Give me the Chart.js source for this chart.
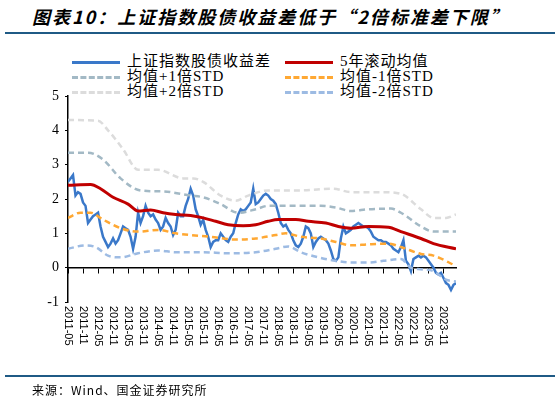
<!DOCTYPE html>
<html>
<head>
<meta charset="utf-8">
<script src="https://cdn.jsdelivr.net/npm/chart.js@4/dist/chart.umd.min.js"></script>
<style>
  body { margin: 0; background: #fff; }
  #wrap { position: relative; width: 559px; height: 403px; }
  #title { position: absolute; left: 32px; top: 3px; font: italic bold 18px "Noto Sans CJK SC"; letter-spacing: 2px; }
  .hr { position: absolute; left: 5px; width: 550px; height: 2px; background: #1f5a85; }
  #src { position: absolute; left: 32px; top: 381px; font: 12px "Noto Sans CJK SC"; letter-spacing: 1px; }
  .lg { position: absolute; font: 15px "Liberation Serif", "Noto Sans CJK SC"; line-height: 15px; letter-spacing: 1px; }
  .lg span { display: inline-block; width: 48px; height: 0; margin-right: 7px; vertical-align: middle; }
  canvas { position: absolute; left: 0; top: 0; }
</style>
</head>
<body>
<div id="wrap">
  <div id="title">图表10：上证指数股债收益差低于“2倍标准差下限”</div>
  <div class="hr" style="top:32px"></div>
  <div class="lg" style="left:72px;top:54px">
    <div><span style="border-top:3px solid #3a78c9"></span>上证指数股债收益差</div>
    <div><span style="border-top:3px dashed #a3b9c5"></span>均值+1倍STD</div>
    <div><span style="border-top:3px dashed #dcdcdc"></span>均值+2倍STD</div>
  </div>
  <div class="lg" style="left:285px;top:54px">
    <div><span style="border-top:3px solid #c00000"></span>5年滚动均值</div>
    <div><span style="border-top:3px dashed #ffa833"></span>均值-1倍STD</div>
    <div><span style="border-top:3px dashed #9dbbe3"></span>均值-2倍STD</div>
  </div>
  <canvas id="c" width="559" height="403"></canvas>
  <div class="hr" style="top:375px"></div>
  <div id="src">来源：Wind、国金证券研究所</div>
</div>
<script>
// 月度序列，2011-05 起（索引 0）
const spread = [2.5,2.6,2.7,2.1,2.2,2.15,1.9,1.8,1.3,1.4,1.5,1.55,1.6,1.2,0.9,0.75,0.6,0.7,0.85,0.7,
  0.8,1.0,1.2,1.15,1.1,0.9,0.55,0.9,1.6,1.3,1.5,1.8,1.6,1.5,1.55,1.4,1.3,1.1,1.2,1.45,
  1.3,1.2,0.95,1.1,1.6,1.5,1.5,1.8,2.0,2.3,2.1,1.7,1.5,1.25,1.4,1.1,0.9,0.6,0.75,0.8,
  0.8,1.0,0.9,0.8,0.75,0.9,1.0,1.3,1.55,1.7,1.65,1.7,1.8,1.9,2.3,1.85,1.9,2.0,2.1,2.15,
  2.1,2.0,1.95,1.85,1.6,1.3,1.2,1.25,1.1,1.0,0.8,0.65,0.6,0.7,0.9,1.2,1.15,1.0,0.6,0.75,
  0.85,0.9,0.85,0.8,0.7,0.5,0.25,0.2,0.3,0.85,1.2,1.0,1.05,1.1,1.2,1.25,1.3,1.25,1.2,1.2,
  1.15,1.05,0.9,0.85,0.8,0.8,0.75,0.75,0.7,0.65,0.55,0.5,0.45,0.6,0.8,0.2,0.1,-0.1,0.25,0.3,
  0.35,0.3,0.35,0.3,0.2,0.1,0.0,-0.15,-0.2,-0.15,-0.3,-0.45,-0.5,-0.65,-0.5,-0.45];

const meanM = [0,9,13,18,24,28,33,38,43,49,54,59,64,70,75,80,84,91,96,103,108,113,120,128,133,141,146,155];
const meanV = [2.4,2.42,2.3,2.05,1.85,1.65,1.68,1.6,1.55,1.52,1.45,1.35,1.25,1.22,1.25,1.35,1.4,1.4,1.35,1.3,1.2,1.15,1.2,1.18,1.05,0.85,0.7,0.55];

const p1M = [0,8,14,21,29,38,49,54,61,68,75,80,88,101,107,113,120,129,133,141,146,155];
const p1V = [3.35,3.35,3.15,2.6,2.25,2.22,2.1,2.05,1.85,1.6,1.7,1.8,1.8,1.8,1.75,1.65,1.7,1.72,1.6,1.2,1.05,1.05];

const p2M = [0,12,16,22,28,36,46,50,54,61,67,72,80,93,106,113,126,133,141,146,151,155];
const p2V = [4.3,4.28,4.0,3.45,2.85,2.85,2.6,2.6,2.5,2.1,1.95,2.1,2.25,2.25,2.3,2.2,2.2,2.15,1.7,1.45,1.45,1.55];

const m1M = [0,5,9,14,21,28,36,43,49,57,67,75,83,87,93,101,107,113,120,128,133,141,146,155];
const m1V = [1.45,1.6,1.6,1.4,1.15,1.05,1.1,1.0,0.95,0.9,0.82,0.85,0.95,1.0,0.9,0.85,0.75,0.65,0.68,0.7,0.6,0.4,0.35,0.05];

const m2M = [0,7,11,16,21,28,36,43,54,64,75,83,88,93,100,107,113,120,126,133,137,141,146,151,155];
const m2V = [0.55,0.65,0.6,0.35,0.3,0.42,0.5,0.45,0.45,0.42,0.45,0.55,0.62,0.45,0.3,0.2,0.15,0.15,0.2,0.25,0.0,-0.05,-0.1,-0.35,-0.4];

const tickLabels = [];
for (let y = 2011; y <= 2023; y++) { tickLabels.push(y + '-05', y + '-11'); }

const pts = (m, v) => m.map((x, i) => ({ x: x, y: v[i] }));
const band = (label, data, color, w) => ({
    label, data, borderColor: color, borderWidth: w, borderDash: [6, 4],
    pointRadius: 0, tension: 0.4, cubicInterpolationMode: 'monotone', fill: false
});

// 竖排日期标签（顺时针旋转）
const dateLabels = {
    id: 'dateLabels',
    afterDraw(chart) {
        const ctx = chart.ctx, sx = chart.scales.x;
        ctx.save();
        ctx.font = '11px "Liberation Sans"';
        ctx.fillStyle = '#000';
        ctx.textBaseline = 'middle';
        tickLabels.forEach((t, i) => {
            ctx.save();
            ctx.translate(sx.getPixelForValue(i * 6), 306);
            ctx.rotate(Math.PI / 2);
            ctx.fillText(t, 0, 0);
            ctx.restore();
        });
        ctx.restore();
    }
};

new Chart(document.getElementById('c'), {
    type: 'line',
    data: {
        datasets: [
            band('均值+2倍STD', pts(p2M, p2V), '#dcdcdc', 2.5),
            band('均值+1倍STD', pts(p1M, p1V), '#a3b9c5', 2.5),
            band('均值-2倍STD', pts(m2M, m2V), '#9dbbe3', 2.5),
            band('均值-1倍STD', pts(m1M, m1V), '#ffa833', 2.5),
            { label: '5年滚动均值', data: pts(meanM, meanV), borderColor: '#c00000', borderWidth: 3,
              pointRadius: 0, tension: 0.4, cubicInterpolationMode: 'monotone' },
            { label: '上证指数股债收益差', data: spread.map((v, i) => ({ x: i, y: v })),
              borderColor: '#3a78c9', borderWidth: 2.5, pointRadius: 0, tension: 0 }
        ]
    },
    options: {
        responsive: false,
        animation: false,
        layout: { padding: { top: 96, right: 103, bottom: 101, left: 0 } },
        plugins: { legend: { display: false }, tooltip: { enabled: false } },
        scales: {
            x: {
                type: 'linear', min: 0, max: 155,
                position: { y: 0 },
                afterBuildTicks: s => { s.ticks = tickLabels.map((t, i) => ({ value: i * 6 })); },
                ticks: { display: false },
                grid: { drawOnChartArea: false, tickLength: 5, color: '#000' },
                border: { color: '#000', width: 1.5 }
            },
            y: {
                min: -1, max: 5,
                afterFit: s => { s.width = 68; },
                ticks: { stepSize: 1, color: '#000', font: { family: 'Liberation Serif', size: 14 }, padding: 6 },
                grid: { drawOnChartArea: false, tickLength: 3, color: '#000' },
                border: { color: '#000', width: 1.5 }
            }
        }
    },
    plugins: [dateLabels]
});
</script>
</body>
</html>
